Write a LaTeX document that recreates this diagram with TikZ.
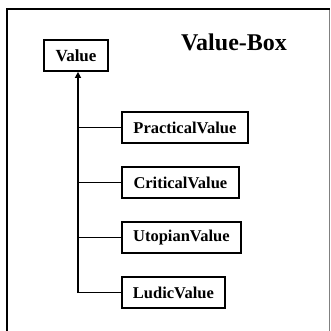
\documentclass[tikz,border=0pt]{standalone}
\usepackage{fontspec}
\setmainfont{Liberation Serif}
\usetikzlibrary{arrows.meta}
\begin{document}
\begin{tikzpicture}[x=1pt,y=-1pt,
  valbox/.style={draw=black,line width=1.8pt,fill=white,inner sep=0pt,
    minimum height=31pt,font=\bfseries\fontsize{16.5}{18}\selectfont,anchor=west},
  link/.style={line width=1.8pt,draw=black}]
  % page area
  \useasboundingbox (0,0) rectangle (331,331);
  \fill[white] (0,0) rectangle (331,331);
  % outer frame (open at the bottom)
  \draw[line width=0.8pt,gray] (329,9) -- (329,331);
  \draw[line width=2.4pt,black] (7,331) -- (7,9) -- (330,9);
  % title
  \node[font=\bfseries\fontsize{24}{28}\selectfont,inner sep=0pt] (title) at (234,42) {Value-Box};
  % root node
  \node[valbox,anchor=center,minimum width=64pt,font=\bfseries\fontsize{17}{19}\selectfont] (value) at (76,55.5) {Value};
  % child nodes
  \node[valbox,minimum width=126pt] (practical) at (121,127.5) {PracticalValue};
  \node[valbox,minimum width=117pt] (critical) at (121,182.5) {CriticalValue};
  \node[valbox,minimum width=119pt] (utopian) at (121,237.5) {UtopianValue};
  \node[valbox,minimum width=103pt] (ludic) at (121,292.5) {LudicValue};
  % trunk line with arrow into the root
  \coordinate (trunk) at (78,293);
  \draw[link,-{Triangle[length=6pt,width=6pt]}] (trunk) -- (trunk |- value.south);
  % branches
  \foreach \n in {practical,critical,utopian,ludic}
    \draw[link] (\n.west) -- (trunk |- \n.west);
\end{tikzpicture}
\end{document}
